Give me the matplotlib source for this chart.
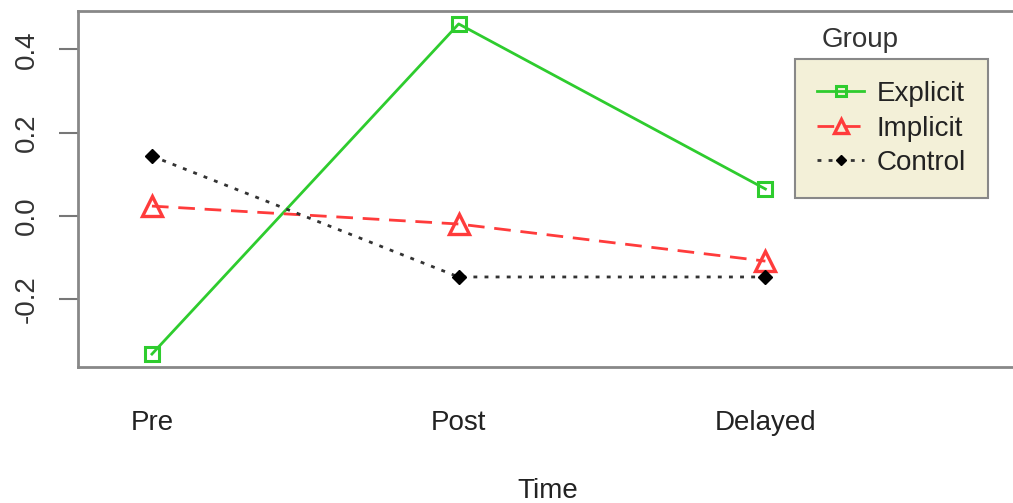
import matplotlib
matplotlib.use("Agg")
import matplotlib.pyplot as plt

plt.rcParams['font.family'] = ['Liberation Sans', 'DejaVu Sans']

# Data
times = ["Pre", "Post", "Delayed"]
explicit = [-0.331, 0.461, 0.065]
implicit = [0.024, -0.019, -0.108]
control = [0.144, -0.146, -0.146]

W, H = 1013, 503
fig = plt.figure(figsize=(W / 100, H / 100), dpi=100)
# axes box runs off the right edge of the picture, as in the reference
left, right, top, bottom = 77.7, 1020, 11, 367
ax = fig.add_axes([left / W, 1 - bottom / H, (right - left) / W, (bottom - top) / H])

x = [1, 2, 3]
ax.plot(x, explicit, color="#2ecc2e", lw=2.0, ls="-", marker="s", ms=10,
        mfc="none", mec="#2ecc2e", mew=2.2, label="Explicit")
ax.plot(x, implicit, color="#ff3b3b", lw=2.0, ls=(0, (6, 3.5)), marker="^", ms=14,
        mfc="none", mec="#ff3b3b", mew=2.4, label="Implicit")
ax.plot(x, control, color="#333333", lw=2.0, ls=(0, (1.4, 2.6)), marker="D", ms=7,
        mfc="black", mec="black", label="Control")

ax.set_xlim(0.758, 3.83)
ax.set_ylim(-0.362, 0.492)

ax.set_yticks([-0.2, 0.0, 0.2, 0.4])
ax.set_yticklabels(["-0.2", "0.0", "0.2", "0.4"], rotation=90, va="center",
                   fontsize=20, color="#333333")
ax.tick_params(axis="y", length=14, width=1.5, color="#777777", pad=13)

ax.set_xticks(x)
ax.set_xticklabels(times, fontsize=20, color="#222222")
ax.tick_params(axis="x", length=0, pad=31)

fig.text(548 / W, 1 - 491 / H, "Time", fontsize=20, color="#222222",
         ha="center", va="center")

for s in ["left", "top", "bottom"]:
    ax.spines[s].set_color("#888888")
    ax.spines[s].set_linewidth(2)
ax.spines["right"].set_visible(False)

leg = ax.legend(loc="upper left", bbox_to_anchor=((795 - left) / (right - left),
                                                   1 - (59 - top) / (bottom - top)),
                fontsize=20, frameon=True, fancybox=False, handlelength=1.7,
                handletextpad=0.45, borderpad=0.8, labelspacing=0.3,
                borderaxespad=0, markerscale=0.7)
frame = leg.get_frame()
frame.set_facecolor("#f3f0d8")
frame.set_edgecolor("#888888")
frame.set_linewidth(1.5)
frame.set_alpha(1)
for t in leg.get_texts():
    t.set_color("#222222")

fig.text(860 / W, 1 - 40 / H, "Group", fontsize=20, color="#333333",
         ha="center", va="center")

fig.savefig("out.png", dpi=100)
